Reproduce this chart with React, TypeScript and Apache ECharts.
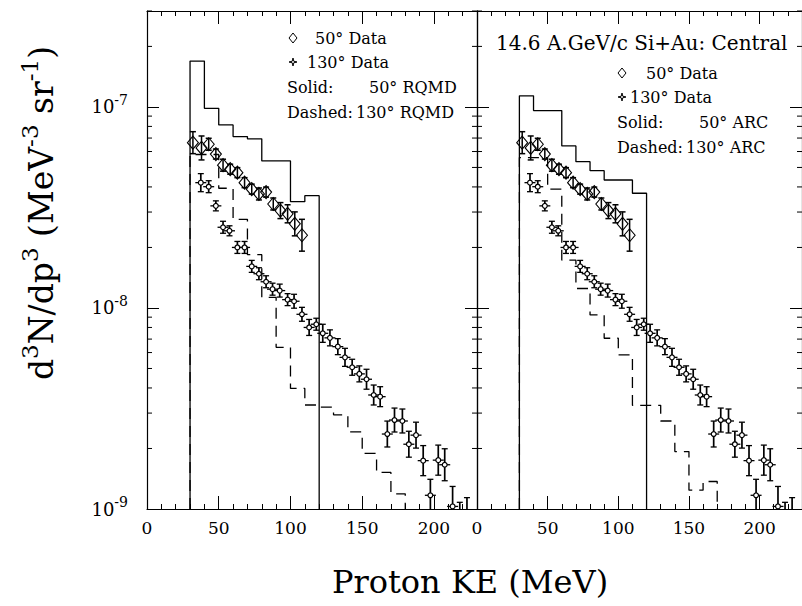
import React, { useEffect, useRef } from 'react';
import * as echarts from 'echarts';

// ---------- data ----------
const X_MAX = 230;
const Y_MIN = 1e-9;
const Y_MAX = 3e-7;
const X_LABELS = [0, 50, 100, 150, 200];

// 50 deg data (diamonds): energy (MeV), value, relative error
const E50 = [32, 38, 43, 48, 53, 58, 63, 68, 73, 78, 83, 88, 93, 98, 103, 108];
const Y50 = [6.64e-8, 6.25e-8, 6.52e-8, 5.83e-8, 5.13e-8, 4.9e-8, 4.71e-8, 4.2e-8, 3.9e-8, 3.69e-8, 3.77e-8, 3.29e-8, 3.05e-8, 2.94e-8, 2.62e-8, 2.3e-8];
const R50 = [0.134, 0.147, 0.071, 0.059, 0.071, 0.059, 0.059, 0.059, 0.059, 0.071, 0.059, 0.071, 0.096, 0.109, 0.147, 0.2];

// 130 deg data (crosses)
const E130 = [37.5, 43, 48, 53, 57.5, 63, 68, 73, 78, 83, 87.5, 92.5, 98, 102.5, 108, 113, 118, 122.5, 127.5, 133, 138, 143, 148, 153, 158, 162.5, 167.5, 172.5, 178, 182.5, 187.5, 192.5, 197.5, 203, 207.5, 213, 218, 223];
const Y130 = [4.2e-8, 4.01e-8, 3.22e-8, 2.52e-8, 2.42e-8, 2.0e-8, 2.0e-8, 1.61e-8, 1.48e-8, 1.35e-8, 1.24e-8, 1.22e-8, 1.1e-8, 1.08e-8, 9.3e-9, 8.0e-9, 8.3e-9, 7.48e-9, 7.1e-9, 6.42e-9, 5.68e-9, 5.07e-9, 4.7e-9, 4.42e-9, 3.69e-9, 3.62e-9, 2.36e-9, 2.77e-9, 2.74e-9, 2.1e-9, 2.33e-9, 1.74e-9, 1.17e-9, 1.75e-9, 1.66e-9, 1.03e-9, 8.5e-10, 8.5e-10];
const R130 = [0.109, 0.071, 0.059, 0.071, 0.059, 0.071, 0.071, 0.071, 0.071, 0.071, 0.071, 0.077, 0.071, 0.083, 0.083, 0.096, 0.071, 0.109, 0.096, 0.096, 0.109, 0.096, 0.096, 0.121, 0.121, 0.121, 0.16, 0.147, 0.147, 0.16, 0.16, 0.188, 0.201, 0.188, 0.201, 0.257, 0.27, 0.34];

// model histograms: bin edges and bin values
const RQMD50_EDGES = [30, 40, 50, 60, 70, 80, 100, 110, 120];
const RQMD50_VALUES = [1.69e-7, 9.84e-8, 8.14e-8, 7.12e-8, 6.94e-8, 5.39e-8, 3.38e-8, 3.62e-8];
const RQMD130_EDGES = [30, 50, 60, 70, 80, 90, 100, 110, 120, 130, 140, 150, 160, 170, 180];
const RQMD130_VALUES = [5.8e-8, 3.94e-8, 2.76e-8, 1.84e-8, 1.13e-8, 6.37e-9, 3.98e-9, 3.29e-9, 3.21e-9, 2.94e-9, 2.42e-9, 1.89e-9, 1.52e-9, 1.19e-9];
const ARC50_EDGES = [30, 40, 60, 70, 80, 90, 110, 120];
const ARC50_VALUES = [1.135e-7, 9.59e-8, 6.4e-8, 5.34e-8, 4.82e-8, 4.33e-8, 3.72e-8];
const ARC130_EDGES = [30, 50, 60, 70, 80, 90, 100, 110, 130, 140, 150, 160, 170];
const ARC130_VALUES = [5.6e-8, 3.9e-8, 1.73e-8, 1.25e-8, 9.23e-9, 7.07e-9, 5.84e-9, 3.28e-9, 2.74e-9, 1.93e-9, 1.24e-9, 1.37e-9];

const Y_MINOR = [2e-9, 3e-9, 4e-9, 5e-9, 6e-9, 7e-9, 8e-9, 9e-9, 2e-8, 3e-8, 4e-8, 5e-8, 6e-8, 7e-8, 8e-8, 9e-8, 2e-7, 3e-7];

// ---------- style ----------
const FONT = '"DejaVu Serif", serif';
const BLACK = '#000';

function histPoints(edges: number[], values: number[]) {
  const pts: number[][] = [[edges[0], Y_MIN]];
  values.forEach((v, i) => {
    pts.push([edges[i], v]);
    pts.push([edges[i + 1], v]);
  });
  pts.push([edges[edges.length - 1], Y_MIN]);
  return pts;
}

function diamondRender(params: any, api: any) {
  const x = api.value(0), y = api.value(1), r = api.value(2);
  const c = api.coord([x, y]);
  const hi = api.coord([x, y * (1 + r)]);
  const lo = api.coord([x, y / (1 + r)]);
  const st = { stroke: BLACK, lineWidth: 1.5, fill: 'none' };
  const w = 3;
  return {
    type: 'group',
    children: [
      { type: 'line', shape: { x1: c[0], y1: hi[1], x2: c[0], y2: lo[1] }, style: st },
      { type: 'line', shape: { x1: c[0] - w, y1: hi[1], x2: c[0] + w, y2: hi[1] }, style: st },
      { type: 'line', shape: { x1: c[0] - w, y1: lo[1], x2: c[0] + w, y2: lo[1] }, style: st },
      {
        type: 'polygon',
        shape: { points: [[c[0], c[1] - 6.5], [c[0] + 5.5, c[1]], [c[0], c[1] + 6.5], [c[0] - 5.5, c[1]]] },
        style: { stroke: BLACK, lineWidth: 1.1, fill: 'none' },
      },
    ],
  };
}

function crossRender(params: any, api: any) {
  const x = api.value(0), y = api.value(1), r = api.value(2);
  const c = api.coord([x, y]);
  const hi = api.coord([x, y * (1 + r)]);
  const lo = api.coord([x, y / (1 + r)]);
  const st = { stroke: BLACK, lineWidth: 1.7, fill: 'none' };
  const w = 3;
  return {
    type: 'group',
    children: [
      { type: 'line', shape: { x1: c[0], y1: hi[1], x2: c[0], y2: lo[1] }, style: st },
      { type: 'line', shape: { x1: c[0] - w, y1: hi[1], x2: c[0] + w, y2: hi[1] }, style: { stroke: BLACK, lineWidth: 1.3 } },
      { type: 'line', shape: { x1: c[0] - w, y1: lo[1], x2: c[0] + w, y2: lo[1] }, style: { stroke: BLACK, lineWidth: 1.3 } },
      { type: 'line', shape: { x1: c[0] - 5.5, y1: c[1], x2: c[0] + 5.5, y2: c[1] }, style: { stroke: BLACK, lineWidth: 1.3 } },
      { type: 'circle', shape: { cx: c[0], cy: c[1], r: 2.4 }, style: { stroke: BLACK, lineWidth: 1.2, fill: '#fff' } },
    ],
  };
}

function minorTickRender(params: any, api: any) {
  const v = api.value(1);
  const l = api.coord([0, v]);
  const r = api.coord([X_MAX, v]);
  const st = { stroke: BLACK, lineWidth: 1 };
  return {
    type: 'group',
    children: [
      { type: 'line', shape: { x1: l[0], y1: l[1], x2: l[0] + 5, y2: l[1] }, style: st },
      { type: 'line', shape: { x1: r[0], y1: r[1], x2: r[0] - 5, y2: r[1] }, style: st },
    ],
  };
}

function diamondPts(cx: number, cy: number, hw: number, hh: number) {
  return [[cx, cy - hh], [cx + hw, cy], [cx, cy + hh], [cx - hw, cy]];
}
function starPts(cx: number, cy: number, R: number, r: number) {
  const pts: number[][] = [];
  for (let i = 0; i < 8; i++) {
    const a = (Math.PI / 4) * i - Math.PI / 2;
    const rad = i % 2 === 0 ? R : r;
    pts.push([cx + rad * Math.cos(a), cy + rad * Math.sin(a)]);
  }
  return pts;
}

function txt(text: string, x: number, y: number, size: number) {
  return {
    type: 'text',
    x,
    y,
    style: { text, font: `${size}px ${FONT}`, fill: BLACK, align: 'left', verticalAlign: 'middle', textAlign: 'left', textVerticalAlign: 'middle' },
  };
}

function legend(ox: number, oy: number, mx: number, model: string, x50: number, x130: number, xModel50: number, xModel130: number) {
  return [
    { type: 'polygon', shape: { points: diamondPts(mx, oy, 4, 5) }, style: { stroke: BLACK, lineWidth: 1, fill: 'none' } },
    txt('50° Data', x50, oy, 16),
    { type: 'polygon', shape: { points: starPts(mx, oy + 24, 4, 1.1) }, style: { stroke: BLACK, lineWidth: 1, fill: 'none' } },
    txt('130° Data', x130, oy + 24, 16),
    txt('Solid:', ox, oy + 49, 16),
    txt('50° ' + model, xModel50, oy + 49, 16),
    txt('Dashed:', ox, oy + 74, 16),
    txt('130° ' + model, xModel130, oy + 74, 16),
  ];
}

function buildOption() {
  const axisLineStyle = { color: BLACK, width: 1.2 };
  const tickStyle = { color: BLACK, width: 1 };
  const grids = [
    { left: 147, top: 11, width: 330, height: 498 },
    { left: 477, top: 11, width: 330, height: 498 },
  ];
  const xAxis: any[] = [];
  const yAxis: any[] = [];
  [0, 1].forEach((g) => {
    ['bottom', 'top'].forEach((pos) => {
      xAxis.push({
        gridIndex: g, type: 'value', min: 0, max: X_MAX, interval: 50, position: pos,
        axisLine: { show: true, onZero: false, lineStyle: axisLineStyle },
        axisTick: { show: true, inside: true, length: 13, lineStyle: tickStyle },
        splitLine: { show: false },
        axisLabel: pos === 'bottom'
          ? {
              show: true, showMaxLabel: false, color: BLACK, fontFamily: FONT, fontSize: 17, margin: 10,
              formatter: (v: number) => (X_LABELS.indexOf(v) >= 0 ? String(v) : ''),
            }
          : { show: false },
      });
      xAxis.push({
        gridIndex: g, type: 'value', min: 0, max: X_MAX, interval: 10, position: pos,
        axisLine: { show: false, onZero: false },
        axisTick: { show: true, inside: true, length: 5, lineStyle: tickStyle },
        splitLine: { show: false },
        axisLabel: { show: false },
      });
    });
    ['left', 'right'].forEach((pos) => {
      const showLabel = g === 0 && pos === 'left';
      yAxis.push({
        gridIndex: g, type: 'log', logBase: 10, min: Y_MIN, max: Y_MAX, position: pos,
        axisLine: { show: true, onZero: false, lineStyle: axisLineStyle },
        axisTick: { show: true, inside: true, length: 12, lineStyle: tickStyle },
        splitLine: { show: false },
        axisLabel: showLabel
          ? {
              show: true, margin: 19,
              formatter: (v: number) => {
                const e = Math.log10(v);
                const r = Math.round(e);
                if (Math.abs(e - r) > 1e-6) return '';
                return `{b|10}{s|${r}}`;
              },
              rich: {
                b: { fontFamily: FONT, fontSize: 18, color: BLACK, lineHeight: 28 },
                s: { fontFamily: FONT, fontSize: 14, color: BLACK, lineHeight: 15, verticalAlign: 'top' },
              },
            }
          : { show: false },
      });
    });
  });

  const d50 = E50.map((e, i) => [e, Y50[i], R50[i]]);
  const d130 = E130.map((e, i) => [e, Y130[i], R130[i]]);
  const dMinor = Y_MINOR.map((v) => [0, v]);
  const models = [
    { solid: histPoints(RQMD50_EDGES, RQMD50_VALUES), dashed: histPoints(RQMD130_EDGES, RQMD130_VALUES) },
    { solid: histPoints(ARC50_EDGES, ARC50_VALUES), dashed: histPoints(ARC130_EDGES, ARC130_VALUES) },
  ];
  const series: any[] = [];
  [0, 1].forEach((g) => {
    const xi = 4 * g, yi = 2 * g;
    series.push({
      type: 'line', xAxisIndex: xi, yAxisIndex: yi, data: models[g].solid, showSymbol: false, symbol: 'none',
      lineStyle: { color: BLACK, width: 1.3 }, silent: true, z: 2,
    });
    series.push({
      type: 'line', xAxisIndex: xi, yAxisIndex: yi, data: models[g].dashed, showSymbol: false, symbol: 'none',
      lineStyle: { color: BLACK, width: 1.3, type: [11, 7] }, silent: true, z: 2,
    });
    series.push({ type: 'custom', xAxisIndex: xi, yAxisIndex: yi, data: d50, renderItem: diamondRender, clip: true, silent: true, z: 3 });
    series.push({ type: 'custom', xAxisIndex: xi, yAxisIndex: yi, data: d130, renderItem: crossRender, clip: true, silent: true, z: 3 });
    series.push({ type: 'custom', xAxisIndex: xi, yAxisIndex: yi, data: dMinor, renderItem: minorTickRender, clip: false, silent: true, z: 3 });
  });

  const graphic: any[] = [
    {
      type: 'text', x: 41, y: 213, rotation: Math.PI / 2,
      style: {
        text: '{m|d}{s|3}{m|N/dp}{s|3}{m| (MeV}{s|-3}{m| sr}{s|-1}{m|)}',
        rich: {
          m: { fontFamily: FONT, fontSize: 33, fill: BLACK, color: BLACK, lineHeight: 46 },
          s: { fontFamily: FONT, fontSize: 23, fill: BLACK, color: BLACK, lineHeight: 22, verticalAlign: 'top' },
        },
        align: 'center', verticalAlign: 'middle', textAlign: 'center', textVerticalAlign: 'middle',
      },
    },
    {
      type: 'text', x: 470, y: 582,
      style: { text: 'Proton KE (MeV)', font: `32px ${FONT}`, fill: BLACK, align: 'center', verticalAlign: 'middle', textAlign: 'center', textVerticalAlign: 'middle' },
    },
    txt('14.6 A.GeV/c Si+Au: Central', 496, 43, 20),
    ...legend(287, 38, 293, 'RQMD', 315, 307, 369, 356),
    ...legend(617, 73, 622, 'ARC', 646, 630, 699, 686),
  ];

  return { animation: false, backgroundColor: '#fff', grid: grids, xAxis, yAxis, series, graphic };
}

export default function App() {
  const ref = useRef<HTMLDivElement>(null);
  useEffect(() => {
    if (!ref.current) return;
    const chart = echarts.init(ref.current, null, { renderer: 'svg' });
    chart.setOption(buildOption() as any);
    return () => chart.dispose();
  }, []);
  return <div ref={ref} style={{ position: 'fixed', left: 0, top: 0, width: 802, height: 606, background: '#fff' }} />;
}
